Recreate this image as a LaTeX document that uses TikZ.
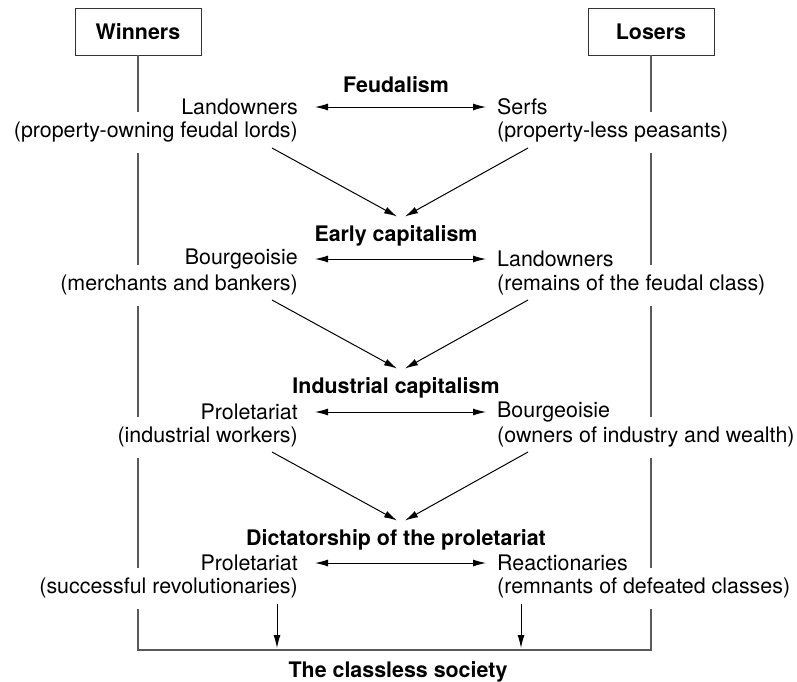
\documentclass[tikz,border=0pt]{standalone}
\usepackage{fontspec}
\setmainfont{TeX Gyre Heros}
\usetikzlibrary{calc}
\usetikzlibrary{positioning}
\usetikzlibrary{arrows.meta}

\begin{document}
\begin{tikzpicture}[x=1pt, y=-1pt,
		b/.style = {rectangle,	draw=black!80,	line width=0.9, minimum width=126, minimum height=47, font=\fontsize{21.4pt}{25pt}\selectfont\bfseries},
		h/.style = {inner sep=0, font=\fontsize{21.4pt}{25pt}\selectfont\bfseries},
		wt/.style = {anchor=east, inner sep=0, font=\fontsize{21.4pt}{25pt}\selectfont},
		lt/.style = {anchor=west, inner sep=0, font=\fontsize{21.4pt}{25pt}\selectfont},
		r/.style = {-{Latex[length=13, width=7]}, line width=1},
		d/.style = {{Latex[length=13, width=7]}-{Latex[length=13, width=7]}, line width=1, shorten <=17, shorten >=11},
		vl/.style = {draw=black!65, line width=1.2}
		]
		\useasboundingbox (0, 0) rectangle (797, 681);
		
		%Nodes
		\node[b]	(win)	at	(138, 31.5)	{Winners};
		\node[b]	(los)	at	(651, 31.5)	{Losers};
		
		\node[h]	(fe)	at	(396, 85)	{Feudalism};
		\node[wt]	(few)	at	(298, 107)	{Landowners};
		\node[wt]	(fewd)	at	(298, 132)	{(property-owning feudal lords)};
		\node[lt]	(fel)	at	(497, 107)	{Serfs};
		\node[lt]	(feld)	at	(497, 132)	{(property-less peasants)};
		
		\node[h]	(ec)	at	(396, 236)	{Early capitalism};
		\node[wt]	(ecw)	at	(298, 259)	{Bourgeoisie};
		\node[wt]	(ecwd)	at	(298, 285)	{(merchants and bankers)};
		\node[lt]	(ecl)	at	(497, 259)	{Landowners};
		\node[lt]	(ecld)	at	(497, 285)	{(remains of the feudal class)};
		
		\node[h]	(ic)	at	(396, 388)	{Industrial capitalism};
		\node[wt]	(icw)	at	(298, 412)	{Proletariat};
		\node[wt]	(icwd)	at	(298, 437)	{(industrial workers)};
		\node[lt]	(icl)	at	(497, 412)	{Bourgeoisie};
		\node[lt]	(icld)	at	(497, 437)	{(owners of industry and wealth)};
		
		\node[h]	(dp)	at	(396, 540)	{Dictatorship of the proletariat};
		\node[wt]	(dpw)	at	(298, 563)	{Proletariat};
		\node[wt]	(dpwd)	at	(298, 588)	{(successful revolutionaries)};
		\node[lt]	(dpl)	at	(497, 563)	{Reactionaries};
		\node[lt]	(dpld)	at	(497, 588)	{(remnants of defeated classes)};
		
		\node[h]	(cs)	at	(398, 672)	{The classless society};
		
		\coordinate	(wend)	at	(138, 650);
		\coordinate	(lend)	at	(651, 650);
		
		%Side lines
		\draw[vl]	(win.south)	to	($(win.south |- fewd.east)+(0,-20)$);
		\draw[vl]	($(win.south |- fewd.east)+(0,21)$)	to	($(win.south |- ecwd.east)+(0,-20)$);
		\draw[vl]	($(win.south |- ecwd.east)+(0,21)$)	to	($(win.south |- icwd.east)+(0,-20)$);
		\draw[vl]	($(win.south |- icwd.east)+(0,21)$)	to	($(win.south |- dpwd.east)+(0,-20)$);
		\draw[vl]	($(win.south |- dpwd.east)+(0,21)$)	--	(wend)	--	(lend)	--	($(los.south |- dpld.west)+(0,21)$);
		\draw[vl]	(los.south)	to	($(los.south |- feld.west)+(0,-20)$);
		\draw[vl]	($(los.south |- feld.west)+(0,21)$)	to	($(los.south |- ecld.west)+(0,-20)$);
		\draw[vl]	($(los.south |- ecld.west)+(0,21)$)	to	($(los.south |- icld.west)+(0,-20)$);
		\draw[vl]	($(los.south |- icld.west)+(0,21)$)	to	($(los.south |- dpld.west)+(0,-20)$);
		
		%Arrows
		\draw[d]	(few.east)	to	(fel.west);
		\draw[d]	(ecw.east)	to	(ecl.west);
		\draw[d]	(icw.east)	to	(icl.west);
		\draw[d]	(dpw.east)	to	(dpl.west);
		
		\draw[r]	($(fewd.east)+(-26,16)$)	to	($(ec.north)+(1,-9)$);
		\draw[r]	($(feld.west)+(31,16)$)	to	($(ec.north)+(9,-9)$);
		\draw[r]	($(ecwd.east)+(-26,15)$)	to	($(ic.north)+(1,-9)$);
		\draw[r]	($(ecld.west)+(31,15)$)	to	($(ic.north)+(9,-9)$);
		\draw[r]	($(icwd.east)+(-26,15)$)	to	($(dp.north)+(1,-9)$);
		\draw[r]	($(icld.west)+(31,15)$)	to	($(dp.north)+(9,-9)$);
		
		\draw[r]	($(dpwd.east)+(-21,16)$)	to	($(dpwd.east |- wend)+(-21,-2)$);
		\draw[r]	($(dpld.west)+(24,16)$)	to	($(dpld.west |- lend)+(24,-2)$);
	\end{tikzpicture}
\end{document}
